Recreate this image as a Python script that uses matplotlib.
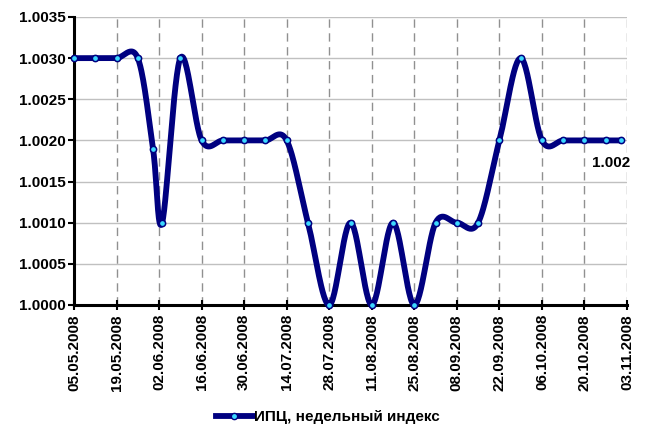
import datetime as dt
import numpy as np
import matplotlib
matplotlib.use('Agg')
import matplotlib.pyplot as plt
import matplotlib.dates as mdates
from matplotlib.lines import Line2D

# weekly CPI index, 2008
dates = ['05.05', '12.05', '19.05', '26.05', '31.05', '03.06', '09.06', '16.06', '23.06',
         '30.06', '07.07', '14.07', '21.07', '28.07', '04.08', '11.08', '18.08', '25.08',
         '01.09', '08.09', '15.09', '22.09', '29.09', '06.10', '13.10', '20.10', '27.10', '01.11']
values = [1.003, 1.003, 1.003, 1.003, 1.0019, 1.001, 1.003, 1.002, 1.002,
          1.002, 1.002, 1.002, 1.001, 1.000, 1.001, 1.000, 1.001, 1.000,
          1.001, 1.001, 1.001, 1.002, 1.003, 1.002, 1.002, 1.002, 1.002, 1.002]
series_name = 'ИПЦ, недельный индекс'
last_label = '1.002'

plt.rcParams['font.family'] = ['Liberation Sans', 'DejaVu Sans']
plt.rcParams['font.weight'] = 'bold'

def to_num(s):
    d, m = s.split('.')
    return mdates.date2num(dt.datetime(2008, int(m), int(d)))

x = np.array([to_num(s) for s in dates])
y = np.array(values)

def smooth(x, y, n=30):
    # excel-style smoothed line (bezier through points)
    px = np.concatenate([[x[0]], x, [x[-1]]])
    py = np.concatenate([[y[0]], y, [y[-1]]])
    xs, ys = [], []
    t = np.linspace(0, 1, n)
    for i in range(1, len(px) - 2):
        p0 = np.array([px[i], py[i]])
        p3 = np.array([px[i + 1], py[i + 1]])
        p1 = p0 + (np.array([px[i + 1], py[i + 1]]) - np.array([px[i - 1], py[i - 1]])) / 6
        p2 = p3 - (np.array([px[i + 2], py[i + 2]]) - np.array([px[i], py[i]])) / 6
        b = ((1 - t) ** 3)[:, None] * p0 + (3 * (1 - t) ** 2 * t)[:, None] * p1 \
            + (3 * (1 - t) * t ** 2)[:, None] * p2 + (t ** 3)[:, None] * p3
        xs.extend(b[:, 0]); ys.extend(b[:, 1])
    return np.array(xs), np.array(ys)

fig = plt.figure(figsize=(6.47, 4.28), dpi=100)
ax = fig.add_axes([74 / 647, 1 - 305 / 428, 553 / 647, 288 / 428])

sx, sy = smooth(x, y)
ax.plot(sx, sy, color='#000080', lw=4.2, solid_capstyle='round', zorder=3, clip_on=False)
ax.plot(x, y, ls='none', marker='o', ms=4.5, mfc='#3CD8FF', mec='#000080', mew=1.1,
        zorder=4, clip_on=False)

start = mdates.date2num(dt.datetime(2008, 5, 5))
end = mdates.date2num(dt.datetime(2008, 11, 3))
ax.set_xlim(start, end)
ax.set_ylim(1.0, 1.0035)
ax.set_xticks(np.arange(start, end + 1, 14))
ax.xaxis.set_major_formatter(mdates.DateFormatter('%d.%m.%Y'))
ax.set_yticks(np.arange(0, 8) * 0.0005 + 1.0)
ax.yaxis.set_major_formatter(matplotlib.ticker.FuncFormatter(lambda v, p: '%.4f' % v))
for lab in ax.get_xticklabels():
    lab.set_rotation(90)
ax.tick_params(axis='both', labelsize=11, width=1.5, length=4, pad=2)
ax.tick_params(axis='x', direction='inout', length=7, pad=3)

ax.yaxis.grid(True, color='#c0c0c0', lw=1, ls='-')
ax.xaxis.grid(True, color='#909090', lw=1, ls=(0, (6, 4)))
ax.set_axisbelow(True)
for s in ['top', 'right']:
    ax.spines[s].set_visible(False)
for s in ['left', 'bottom']:
    ax.spines[s].set_linewidth(2.2)

ax.annotate(last_label, (x[-1], y[-1]), xytext=(6.5, -16), textcoords='offset points',
            ha='right', va='center', fontsize=11, fontweight='bold')

h = Line2D([], [], color='#000080', lw=4.2, marker='o', ms=4.5, mfc='#3CD8FF', mec='#000080')
fig.legend([h], [series_name], loc='center', bbox_to_anchor=(328 / 647, 1 - 417 / 428),
           frameon=False, fontsize=11, handlelength=2.4, handletextpad=0.1, numpoints=1)

fig.savefig('out.png', dpi=100)
